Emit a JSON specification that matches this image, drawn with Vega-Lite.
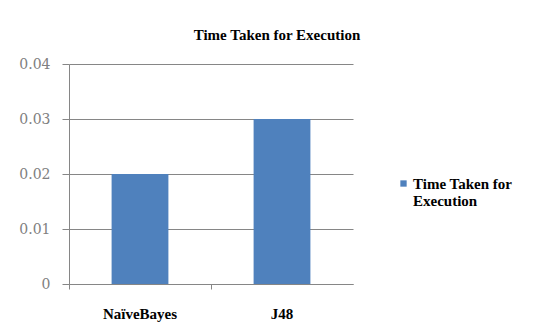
{
  "$schema": "https://vega.github.io/schema/vega-lite/v6.json",
  "width": 284,
  "height": 220,
  "padding": {"left": 69, "top": 64, "right": 189, "bottom": 47},
  "autosize": {"type": "none"},
  "background": "white",
  "title": {
    "text": "Time Taken for Execution",
    "anchor": "middle",
    "dx": 66,
    "offset": 14,
    "font": "Liberation Serif",
    "fontSize": 15,
    "fontWeight": "bold",
    "color": "#000000"
  },
  "data": {
    "values": [
      {"algorithm": "NaïveBayes", "series": "Time Taken for Execution", "time": 0.02},
      {"algorithm": "J48", "series": "Time Taken for Execution", "time": 0.03}
    ]
  },
  "mark": {"type": "bar", "width": {"band": 0.4}},
  "encoding": {
    "x": {
      "field": "algorithm",
      "type": "nominal",
      "sort": null,
      "scale": {"paddingInner": 0, "paddingOuter": 0},
      "axis": {
        "title": null,
        "labelAngle": 0,
        "bandPosition": 0,
        "tickSize": 5,
        "tickColor": "#868686",
        "domainColor": "#868686",
        "labelFont": "Liberation Serif",
        "labelFontSize": 15,
        "labelFontWeight": "bold",
        "labelColor": "#000000",
        "labelPadding": 17,
        "labelBaseline": "top",
        "labelAlign": "center"
      }
    },
    "y": {
      "field": "time",
      "type": "quantitative",
      "scale": {"domain": [0, 0.04], "nice": false},
      "axis": {
        "title": null,
        "values": [0, 0.01, 0.02, 0.03, 0.04],
        "labelExpr": "datum.value == 0 ? '0' : format(datum.value, '.2f')",
        "grid": true,
        "gridColor": "#868686",
        "gridWidth": 1,
        "tickSize": 7,
        "tickColor": "#868686",
        "domainColor": "#868686",
        "labelFont": "DejaVu Serif",
        "labelFontSize": 14,
        "labelColor": "#808080",
        "labelPadding": 12
      }
    },
    "color": {
      "field": "series",
      "type": "nominal",
      "scale": {"range": ["#4f81bd"]},
      "legend": {
        "title": null,
        "orient": "none",
        "legendX": 327,
        "legendY": 112,
        "symbolType": "square",
        "symbolSize": 40,
        "labelFont": "Liberation Serif",
        "labelFontSize": 15,
        "labelFontWeight": "bold",
        "labelColor": "#000000",
        "labelExpr": "['Time Taken for', 'Execution']",
        "labelLimit": 200,
        "labelOffset": 2
      }
    }
  },
  "config": {
    "view": {"stroke": null},
    "axis": {"domainWidth": 1, "tickWidth": 1}
  }
}
